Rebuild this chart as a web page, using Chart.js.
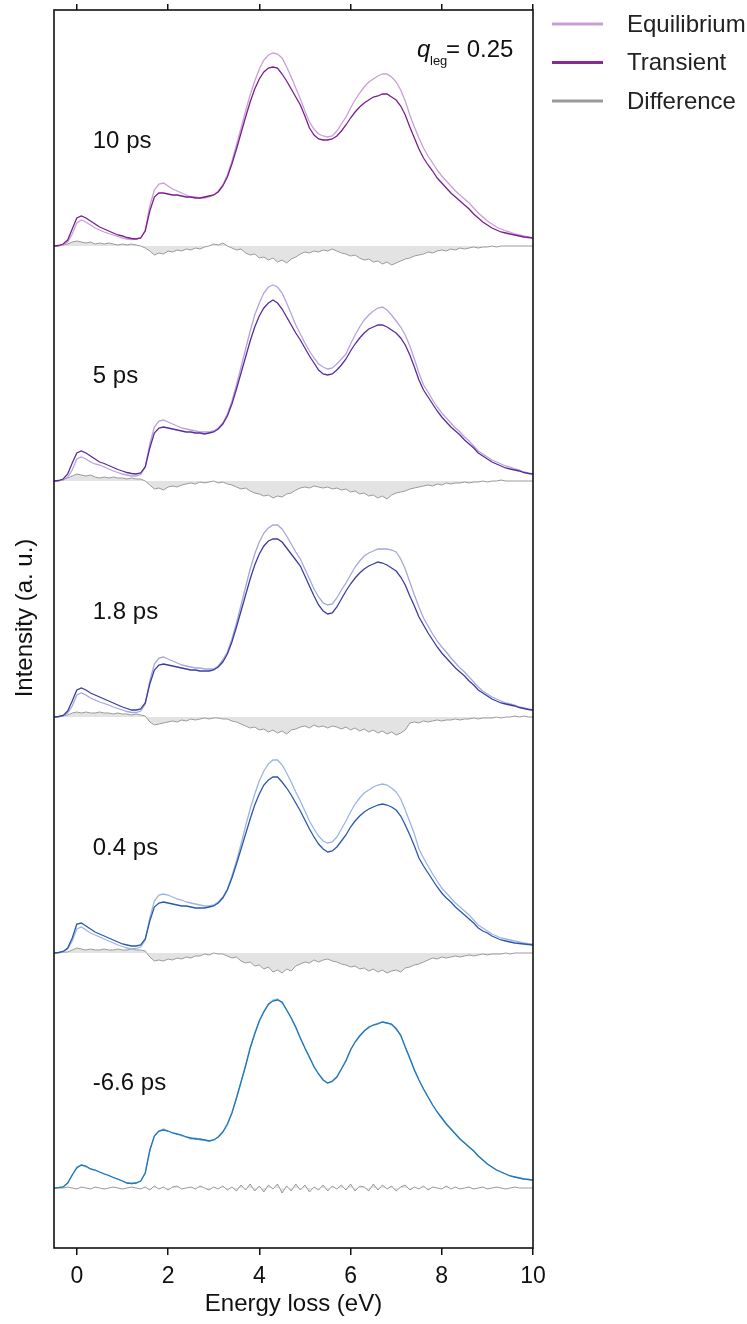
<!DOCTYPE html>
<html>
<head>
<meta charset="utf-8">
<script src="https://cdn.jsdelivr.net/npm/chart.js@4.4.1/dist/chart.umd.min.js"></script>
<style>
  html, body { margin: 0; padding: 0; background: #fff; }
  #wrap { width: 747px; height: 1324px; }
</style>
</head>
<body>
<div id="wrap"><canvas id="rixsChart" width="747" height="1324"></canvas></div>
<script>
// energy loss grid (eV)
const energy = [
  -0.5, -0.4, -0.3, -0.2, -0.1, 0.0, 0.1, 0.2, 0.3, 0.4,
  0.5, 0.6, 0.7, 0.8, 0.9, 1.0, 1.1, 1.2, 1.3, 1.4,
  1.5, 1.6, 1.7, 1.8, 1.9, 2.0, 2.1, 2.2, 2.3, 2.4,
  2.5, 2.6, 2.7, 2.8, 2.9, 3.0, 3.1, 3.2, 3.3, 3.4,
  3.5, 3.6, 3.7, 3.8, 3.9, 4.0, 4.1, 4.2, 4.3, 4.4,
  4.5, 4.6, 4.7, 4.8, 4.9, 5.0, 5.1, 5.2, 5.3, 5.4,
  5.5, 5.6, 5.7, 5.8, 5.9, 6.0, 6.1, 6.2, 6.3, 6.4,
  6.5, 6.6, 6.7, 6.8, 6.9, 7.0, 7.1, 7.2, 7.3, 7.4,
  7.5, 7.6, 7.7, 7.8, 7.9, 8.0, 8.1, 8.2, 8.3, 8.4,
  8.5, 8.6, 8.7, 8.8, 8.9, 9.0, 9.1, 9.2, 9.3, 9.4,
  9.5, 9.6, 9.7, 9.8, 9.9, 10.0
];
const xTicks = [0, 2, 4, 6, 8, 10];
const delays = ['10 ps', '5 ps', '1.8 ps', '0.4 ps', '-6.6 ps'];
// vertical offset of each stacked spectrum (a. u.)
const offsets = [1002, 767, 531, 295, 60];

// 10 ps
const eq10 = [
  0, 0.3, 1, 4, 12, 23, 26, 24, 21, 18,
  16, 14, 12.5, 11, 9.5, 8, 7, 6.5, 7, 8,
  16, 40, 56, 62, 63, 60, 57, 55, 53, 51,
  49, 49, 48, 48, 49, 51, 55, 61, 71, 85,
  101, 118, 135, 151, 165, 177, 186, 191, 193, 192,
  188, 179, 169, 158, 147, 135, 124, 117, 112, 110,
  109, 110, 115, 122, 129, 138, 146, 153, 159, 164,
  167, 170, 172, 172, 169, 164, 156, 145, 131, 119,
  108, 98, 90, 83, 76, 70, 65, 60, 55, 51,
  47, 43, 38, 33, 29, 25, 22, 19, 17, 15,
  14, 12, 11, 10, 9, 8
];
const tr10 = [
  0, 0.5, 2, 6, 17, 28, 30, 28, 25, 22,
  19, 17, 15, 13, 11, 10, 8.5, 7.5, 7, 8,
  15, 35, 49, 53, 53, 52, 51, 51, 50, 49,
  49, 48, 48, 49, 50, 51, 54, 60, 69, 82,
  97, 113, 129, 144, 157, 167, 174, 178, 179, 178,
  172, 165, 157, 149, 141, 130, 118, 111, 107, 106,
  106, 107, 110, 115, 121, 128, 134, 139, 143, 146,
  149, 150, 152, 152, 149, 146, 140, 131, 119, 108,
  97, 88, 81, 75, 68, 63, 58, 53, 49, 45,
  41, 37, 32, 28, 24, 21, 18, 16, 14, 13,
  12, 11, 10, 9, 8.5, 8
];
const df10 = [
  0, 0, 1, 2, 4, 5, 4, 3, 4, 2,
  3, 2, 3, 2, 1, 2, 1, 2, 1, 0,
  -2, -5, -9, -7, -8, -5, -6, -4, -5, -3,
  -4, -2, -3, -1, 0, 2, 1, 3, 0, -2,
  -4, -3, -7, -9, -8, -12, -11, -14, -12, -16,
  -14, -17, -13, -11, -8, -6, -7, -5, -6, -4,
  -5, -3, -5, -7, -8, -10, -9, -12, -14, -13,
  -16, -15, -18, -16, -19, -17, -15, -13, -12, -10,
  -9, -8, -6, -7, -5, -4, -5, -3, -4, -2,
  -3, -2, -1, -2, -1, -1, 0, -1, 0, 0,
  0, 0, 0, 0, 0, 0
];

// 5 ps
const eq5 = [
  0, 0.3, 1, 4, 11, 22, 24, 22, 19, 17,
  16, 14, 12, 10, 8.5, 7, 6, 5, 5, 6.5,
  14, 37, 54, 60, 61, 59, 57, 55, 53, 52,
  51, 50, 49, 49, 49, 50, 53, 58, 67, 80,
  96, 114, 132, 150, 166, 178, 188, 194, 196, 194,
  188, 178, 167, 156, 147, 138, 130, 123, 117, 114,
  112, 113, 117, 122, 127, 137, 146, 154, 161, 166,
  170, 173, 174, 171, 166, 160, 154, 146, 135, 122,
  108, 96, 89, 81, 74, 68, 63, 58, 53, 49,
  44, 40, 35, 30, 27, 24, 21, 19, 17, 15,
  14, 12, 11, 9, 8, 7
];
const tr5 = [
  0, 0.5, 2, 7, 18, 28, 30, 28, 25, 22,
  19, 17.5, 15.5, 13.5, 11.5, 10, 8.5, 7.5, 7, 8,
  14, 33, 48, 53, 54, 53, 52, 51, 50, 49,
  49, 48, 48, 47, 48, 49, 52, 57, 65, 77,
  92, 108, 124, 140, 154, 165, 173, 178, 181, 178,
  172, 164, 156, 148, 141, 133, 125, 118, 111, 107,
  106, 107, 111, 116, 122, 130, 137, 143, 148, 152,
  154, 156, 156, 154, 151, 148, 143, 136, 126, 114,
  101, 91, 84, 77, 70, 64, 59, 54, 50, 46,
  41, 37, 33, 28, 25, 22, 19, 17, 15, 13,
  12, 11, 10, 8.5, 7.5, 7
];
const df5 = [
  0, 0, 1, 3, 5, 7, 6, 5, 6, 4,
  3, 4, 3, 4, 3, 3, 2, 3, 2, 2,
  0, -4, -8, -7, -9, -6, -5, -6, -4, -3,
  -2, -3, -1, -2, -1, 0, -2, -1, -3, -4,
  -6, -8, -7, -10, -12, -13, -15, -14, -17, -15,
  -16, -13, -12, -9, -7, -6, -7, -5, -6, -7,
  -6, -8, -7, -9, -8, -11, -10, -13, -12, -15,
  -14, -17, -15, -18, -14, -12, -11, -10, -8, -7,
  -6, -5, -4, -5, -3, -4, -2, -3, -2, -2,
  -1, -2, -1, -1, 0, -1, 0, 0, 1, 0,
  0, 0, 0, 0, 0, 0
];

// 1.8 ps
const eq18 = [
  0, 0.3, 1, 4, 11, 22, 24, 22, 19, 17,
  15, 13.5, 12, 10, 8.5, 7, 5.5, 4.5, 4.5, 6,
  13, 36, 53, 59, 60, 58, 56, 54, 52, 51,
  50, 49, 49, 48, 48, 48, 51, 57, 65, 78,
  94, 112, 130, 148, 163, 175, 184, 189, 192, 192,
  188, 181, 173, 165, 158, 148, 138, 128, 120, 114,
  112, 113, 119, 127, 134, 142, 150, 156, 161, 164,
  166, 168, 168, 168, 167, 165, 158, 148, 135, 122,
  110, 99, 91, 83, 76, 70, 65, 59, 54, 49,
  45, 40, 35, 30, 26, 23, 20, 18, 16, 14,
  13, 12, 10, 9, 8, 7
];
const tr18 = [
  0, 0.5, 1.5, 6, 16, 27, 29, 27, 24, 22,
  20, 18, 16, 14, 12, 10, 8.5, 7, 7, 8,
  14, 33, 47, 52, 53, 52, 51, 50, 49, 48,
  47, 47, 46, 46, 46, 47, 50, 55, 63, 75,
  90, 106, 122, 138, 152, 163, 171, 176, 178, 178,
  175, 169, 163, 157, 151, 141, 131, 121, 112, 106,
  103, 104, 110, 118, 126, 133, 139, 144, 148, 151,
  153, 155, 154, 152, 149, 146, 140, 132, 121, 111,
  100, 92, 84, 77, 70, 64, 59, 54, 49, 45,
  41, 36, 32, 27, 24, 21, 18, 16, 14, 13,
  12, 11, 9.5, 8.5, 7.5, 7
];
const df18 = [
  0, 0, 1, 2, 4, 5, 4, 5, 4, 4,
  5, 4, 4, 3, 4, 3, 3, 2, 3, 2,
  1, -5, -8, -7, -6, -5, -4, -5, -3, -4,
  -2, -3, -2, -1, -2, -1, -1, -2, -2, -4,
  -5, -7, -9, -11, -10, -13, -12, -15, -13, -16,
  -14, -17, -13, -12, -10, -9, -11, -8, -10, -9,
  -11, -9, -10, -12, -10, -13, -11, -14, -12, -15,
  -13, -16, -14, -17, -15, -18, -16, -13, -6, -5,
  -6, -4, -5, -4, -3, -4, -3, -3, -2, -3,
  -2, -2, -1, -2, -1, -1, -1, 0, -1, 0,
  0, 1, 0, 1, 0, 0
];

// 0.4 ps
const eq04 = [
  0, 0.3, 1, 4, 12, 24, 26, 23, 20, 18,
  16, 14, 12, 10, 8, 6.5, 5, 4, 4.5, 6,
  13, 35, 52, 58, 59, 58, 56, 54, 53, 51,
  50, 49, 48, 47, 47, 48, 51, 56, 64, 77,
  92, 109, 127, 144, 159, 172, 182, 189, 193, 193,
  188, 180, 171, 161, 152, 142, 132, 124, 117, 112,
  110, 111, 116, 124, 132, 141, 149, 155, 160, 163,
  166, 168, 169, 168, 165, 161, 154, 143, 131, 119,
  104, 95, 87, 79, 72, 65, 60, 55, 50, 46,
  42, 38, 33, 28, 25, 22, 19, 17, 15, 14,
  13, 12, 11, 10, 9, 9
];
const tr04 = [
  0, 0.5, 1.5, 5, 15, 29, 30, 27, 24, 21,
  19, 17, 15, 13, 11, 9, 8, 7, 7, 8,
  14, 32, 46, 50, 51, 50, 49, 48, 47, 47,
  46, 45, 45, 45, 46, 47, 50, 55, 63, 75,
  89, 104, 119, 134, 148, 159, 168, 173, 176, 176,
  171, 165, 158, 150, 142, 133, 124, 116, 109, 104,
  101, 102, 106, 112, 118, 126, 132, 137, 141, 144,
  146, 148, 149, 148, 146, 143, 137, 128, 118, 107,
  95, 87, 80, 73, 66, 60, 55, 51, 46, 42,
  38, 34, 30, 25, 22, 20, 17, 15, 13, 12,
  11, 10, 9.5, 9, 8.5, 8
];
const df04 = [
  0, 0, 1, 1, 3, 5, 4, 3, 4, 3,
  3, 4, 3, 3, 4, 3, 3, 4, 3, 3,
  2, -4, -8, -7, -8, -6, -7, -5, -6, -4,
  -5, -3, -3, -1, -2, 0, -1, -1, -3, -5,
  -4, -8, -10, -9, -13, -12, -16, -14, -19, -17,
  -20, -16, -18, -13, -11, -9, -10, -7, -9, -7,
  -6, -8, -9, -11, -12, -14, -13, -16, -15, -18,
  -16, -19, -17, -20, -18, -17, -19, -15, -14, -12,
  -11, -9, -7, -5, -6, -4, -5, -4, -3, -4,
  -3, -2, -3, -2, -1, -2, -1, -1, -1, 0,
  -1, 0, 0, 0, 0, 0
];

// -6.6 ps
const eqNeg = [
  0, 0.3, 1, 5, 13, 21, 23, 21, 19, 18,
  16, 14.5, 12.5, 10.5, 8.5, 7, 5, 4.5, 5, 7,
  15, 37, 52, 57, 59, 57, 55, 54, 52, 51,
  49, 50, 48, 48, 47, 48, 51, 56, 63, 75,
  90, 106, 123, 140, 155, 167, 177, 183, 188, 189,
  185, 178, 170, 160, 150, 140, 130, 122, 114, 108,
  105, 106, 111, 119, 128, 138, 146, 152, 157, 160,
  163, 165, 166, 165, 163, 160, 152, 141, 129, 118,
  108, 99, 91, 83, 76, 70, 64, 59, 54, 49,
  45, 41, 37, 32, 28, 24, 21, 18, 16, 14,
  12, 11, 10, 9, 8.5, 8
];
const trNeg = [
  0, 0.3, 1, 5, 13, 20, 23, 22, 19, 18,
  16, 14, 12.5, 10.5, 9, 7, 5, 4.5, 5, 7,
  15, 38, 52, 57, 58, 57, 55, 54, 53, 51,
  50, 49, 49, 48, 47, 48, 51, 56, 64, 75,
  90, 106, 122, 140, 154, 167, 176, 184, 187, 188,
  186, 178, 170, 161, 150, 140, 131, 121, 114, 108,
  105, 107, 111, 119, 127, 138, 146, 152, 157, 161,
  163, 164, 166, 165, 164, 159, 153, 141, 130, 118,
  108, 99, 91, 83, 76, 70, 64, 59, 54, 49,
  45, 41, 37, 32, 28, 24, 21, 18, 16, 14,
  12, 11, 10, 9, 8.5, 8
];
const dfNeg = [
  0, 0, 0, 1, 0, -1, 1, 0, -1, 1,
  0, -1, 0, 1, 0, -1, 0, 1, 0, -1,
  1, -2, 2, -1, 1, -2, 1, 2, -1, 0,
  1, -1, 2, 0, -2, 1, -1, 2, -2, 1,
  -3, 3, -2, 4, -3, 2, -4, 3, -1, 4,
  -5, 2, -3, 4, -2, 3, -4, 1, -2, 3,
  -3, 2, -1, 3, -2, 4, -3, 2, 1, -3,
  4, -2, 3, -1, 2, -3, 1, 3, -2, 1,
  -1, 2, -2, 1, 0, -1, 2, -1, 1, -1,
  0, 1, -1, 0, 1, -1, 0, 1, 0, -1,
  0, 1, 0, 0, 0, 0
];

const equilibrium = [eq10, eq5, eq18, eq04, eqNeg];
const transient = [tr10, tr5, tr18, tr04, trNeg];
const difference = [df10, df5, df18, df04, dfNeg];

const trColors = ['#7a1e8e', '#5a2c9b', '#3b3e9f', '#2a58ad', '#2277b7'];
const eqColors = ['#c9a0d6', '#b6a3da', '#a4a8da', '#9db6e0', '#8dbfe3'];
const FONT = '"Liberation Sans", Arial, Helvetica, sans-serif';

const datasets = [];
delays.forEach((label, p) => {
  const off = offsets[p];
  const toPts = vals => energy.map((e, i) => ({ x: e, y: off + vals[i] }));
  datasets.push({
    label: 'Transient ' + label, data: toPts(transient[p]),
    borderColor: trColors[p], borderWidth: 1.3, pointRadius: 0, fill: false, order: 0
  });
  datasets.push({
    label: 'Equilibrium ' + label, data: toPts(equilibrium[p]),
    borderColor: eqColors[p], borderWidth: 1.3, pointRadius: 0, fill: false, order: 1
  });
  datasets.push({
    label: 'Difference ' + label, data: toPts(difference[p]),
    borderColor: '#9a9a9a', borderWidth: 1, pointRadius: 0,
    fill: { value: off }, backgroundColor: 'rgba(200,200,200,0.5)', order: 2
  });
});

const setTicks = axis => { axis.ticks = xTicks.map(v => ({ value: v })); };

const decorations = {
  id: 'decorations',
  afterDraw(chart) {
    const { ctx, chartArea: ca, scales: { x, y } } = chart;
    ctx.save();
    // frame
    ctx.strokeStyle = '#111';
    ctx.lineWidth = 1.6;
    ctx.strokeRect(ca.left, ca.top, ca.right - ca.left, ca.bottom - ca.top);

    ctx.fillStyle = '#111';
    ctx.textBaseline = 'alphabetic';
    ctx.textAlign = 'left';
    ctx.font = '24px ' + FONT;
    delays.forEach((d, p) => {
      ctx.fillText(d, x.getPixelForValue(0.35), y.getPixelForValue(offsets[p] + 98));
    });

    // q_leg annotation
    ctx.font = 'italic 24px ' + FONT;
    ctx.fillText('q', ca.right - 116, ca.top + 47);
    ctx.font = '13px ' + FONT;
    ctx.fillText('leg', ca.right - 103, ca.top + 55);
    ctx.font = '24px ' + FONT;
    ctx.fillText('= 0.25', ca.right - 87, ca.top + 47);

    // y title
    ctx.save();
    ctx.translate(25, 618);
    ctx.rotate(-Math.PI / 2);
    ctx.textAlign = 'center';
    ctx.textBaseline = 'middle';
    ctx.fillText('Intensity (a. u.)', 0, 0);
    ctx.restore();

    // legend
    const items = [['Equilibrium', '#c99fd5'], ['Transient', '#8a2897'], ['Difference', '#9a9a9a']];
    ctx.textBaseline = 'middle';
    items.forEach(([name, col], i) => {
      const ly = ca.top + 14 + i * 38.5;
      ctx.strokeStyle = col;
      ctx.lineWidth = 3;
      ctx.beginPath();
      ctx.moveTo(ca.right + 19, ly);
      ctx.lineTo(ca.right + 70, ly);
      ctx.stroke();
      ctx.fillStyle = '#222';
      ctx.fillText(name, ca.right + 94, ly + 1);
    });
    ctx.restore();
  }
};

new Chart(document.getElementById('rixsChart'), {
  type: 'line',
  data: { datasets },
  options: {
    responsive: false,
    animation: false,
    layout: { padding: { left: 54, right: 214, top: 0, bottom: 0 } },
    plugins: { legend: { display: false }, tooltip: { enabled: false } },
    elements: { line: { tension: 0 } },
    scales: {
      x: {
        type: 'linear', position: 'bottom', min: -0.5, max: 10,
        afterBuildTicks: setTicks,
        afterFit: s => { s.height = 76; },
        border: { display: false },
        grid: { drawOnChartArea: false, drawTicks: true, tickLength: 7, color: '#111', lineWidth: 1.5 },
        ticks: { color: '#111', font: { family: FONT, size: 23 }, padding: 8, maxRotation: 0 },
        title: { display: true, text: 'Energy loss (eV)', color: '#111', font: { family: FONT, size: 24 }, padding: { top: 0, bottom: 5 } }
      },
      xTop: {
        type: 'linear', position: 'top', min: -0.5, max: 10,
        afterBuildTicks: setTicks,
        afterFit: s => { s.height = 10; },
        border: { display: false },
        grid: { drawOnChartArea: false, drawTicks: true, tickLength: 6, color: '#111', lineWidth: 1.5 },
        ticks: { display: false }
      },
      y: { display: false, min: 0, max: 1238 }
    }
  },
  plugins: [decorations]
});
</script>
</body>
</html>
